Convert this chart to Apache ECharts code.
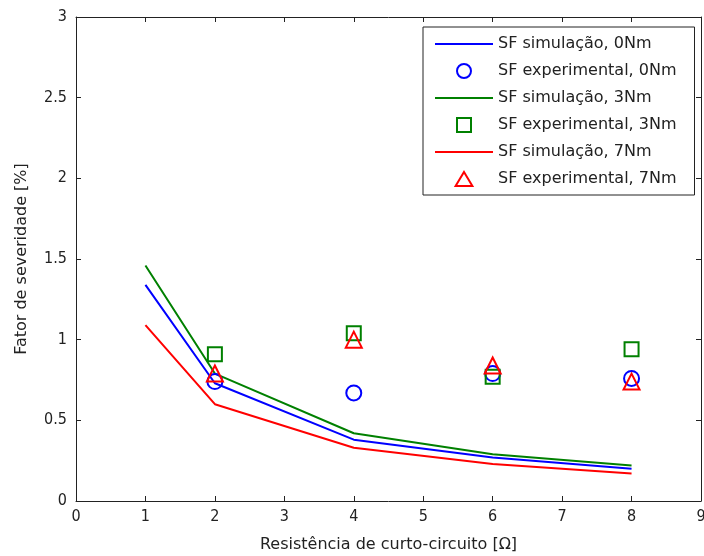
<!DOCTYPE html>
<html>
<head>
<meta charset="utf-8">
<script src="https://cdn.jsdelivr.net/npm/echarts@6/dist/echarts.min.js"></script>
<style>
  html, body { margin: 0; padding: 0; background: #fff; }
  #chart { width: 704px; height: 556px; }
</style>
</head>
<body>
<div id="chart"></div>
<script>
// resistencia de curto-circuito [ohm]
const resistSim = [1, 2, 4, 6, 8];
const resistExp = [2, 4, 6, 8];

// fator de severidade [%]
const sim0 = [1.34, 0.73, 0.38, 0.27, 0.20];
const sim3 = [1.46, 0.79, 0.42, 0.29, 0.22];
const sim7 = [1.09, 0.60, 0.33, 0.23, 0.17];
const exp0 = [0.74, 0.67, 0.79, 0.76];
const exp3 = [0.91, 1.04, 0.77, 0.94];
const exp7 = [0.79, 1.00, 0.84, 0.74];

const names = [
  'SF simulação, 0Nm', 'SF experimental, 0Nm',
  'SF simulação, 3Nm', 'SF experimental, 3Nm',
  'SF simulação, 7Nm', 'SF experimental, 7Nm'
];

const BLUE = '#0000ff', GREEN = '#008000', RED = '#ff0000';
const LINE_ICON = 'path://M0,0H60V2H0Z';
const SQUARE_ICON = 'path://M0,0H10V10H0Z';
const TRI_ICON = 'path://M6,0L12,10H0Z';
const tickFont = { fontFamily: 'DejaVu Sans Condensed', fontSize: 16, color: '#222' };
const nameFont = { fontFamily: 'DejaVu Sans', fontSize: 16, color: '#222' };

function pairs(xs, ys) {
  return xs.map((x, i) => [x, ys[i]]);
}

function hollow(color) {
  return { color: 'rgba(0,0,0,0)', borderColor: color, borderWidth: 2, opacity: 1 };
}

function simSeries(name, data, color) {
  return {
    name: name, type: 'line', data: pairs(resistSim, data),
    symbol: 'none', lineStyle: { color: color, width: 2 }, itemStyle: { color: color },
    animation: false, z: 2
  };
}

function expSeries(name, data, color, symbol, size) {
  return {
    name: name, type: 'scatter', data: pairs(resistExp, data),
    symbol: symbol, symbolSize: size,
    itemStyle: hollow(color),
    animation: false, z: 3
  };
}

function frameAxis(extra) {
  return Object.assign({
    type: 'value',
    axisLine: { show: true, onZero: false, lineStyle: { color: '#222', width: 1 } },
    axisTick: { show: true, inside: true, length: 5, lineStyle: { color: '#222' } },
    splitLine: { show: false }
  }, extra);
}

const chart = echarts.init(document.getElementById('chart'));
chart.setOption({
  backgroundColor: '#fff',
  grid: { left: 76, right: 3, top: 17, bottom: 55, outerBoundsMode: 'none' },
  legend: {
    orient: 'vertical', left: 423, top: 27,
    padding: [9, 18, 8, 12], itemGap: 11,
    itemWidth: 58, itemHeight: 14,
    backgroundColor: '#fff', borderColor: '#222', borderWidth: 1, borderRadius: 0,
    textStyle: nameFont,
    data: [
      { name: names[0], icon: LINE_ICON, itemStyle: { color: BLUE } },
      { name: names[1], icon: 'circle', itemStyle: hollow(BLUE) },
      { name: names[2], icon: LINE_ICON, itemStyle: { color: GREEN } },
      { name: names[3], icon: SQUARE_ICON, itemStyle: hollow(GREEN) },
      { name: names[4], icon: LINE_ICON, itemStyle: { color: RED } },
      { name: names[5], icon: TRI_ICON, itemStyle: hollow(RED) }
    ]
  },
  xAxis: [
    frameAxis({
      min: 0, max: 9, interval: 1, position: 'bottom',
      name: 'Resistência de curto-circuito [Ω]', nameLocation: 'middle', nameGap: 36,
      nameTextStyle: nameFont,
      axisLabel: Object.assign({ margin: 8 }, tickFont)
    }),
    frameAxis({ min: 0, max: 9, interval: 1, position: 'top', axisLabel: { show: false } })
  ],
  yAxis: [
    frameAxis({
      min: 0, max: 3, interval: 0.5, position: 'left',
      name: 'Fator de severidade [%]', nameLocation: 'middle', nameGap: 46,
      nameTextStyle: nameFont,
      axisLabel: Object.assign({ margin: 9 }, tickFont)
    }),
    frameAxis({ min: 0, max: 3, interval: 0.5, position: 'right', axisLabel: { show: false } })
  ],
  series: [
    simSeries(names[0], sim0, BLUE),
    expSeries(names[1], exp0, BLUE, 'circle', 15),
    simSeries(names[2], sim3, GREEN),
    expSeries(names[3], exp3, GREEN, 'rect', 14),
    simSeries(names[4], sim7, RED),
    expSeries(names[5], exp7, RED, 'triangle', 16)
  ]
});
</script>
</body>
</html>
